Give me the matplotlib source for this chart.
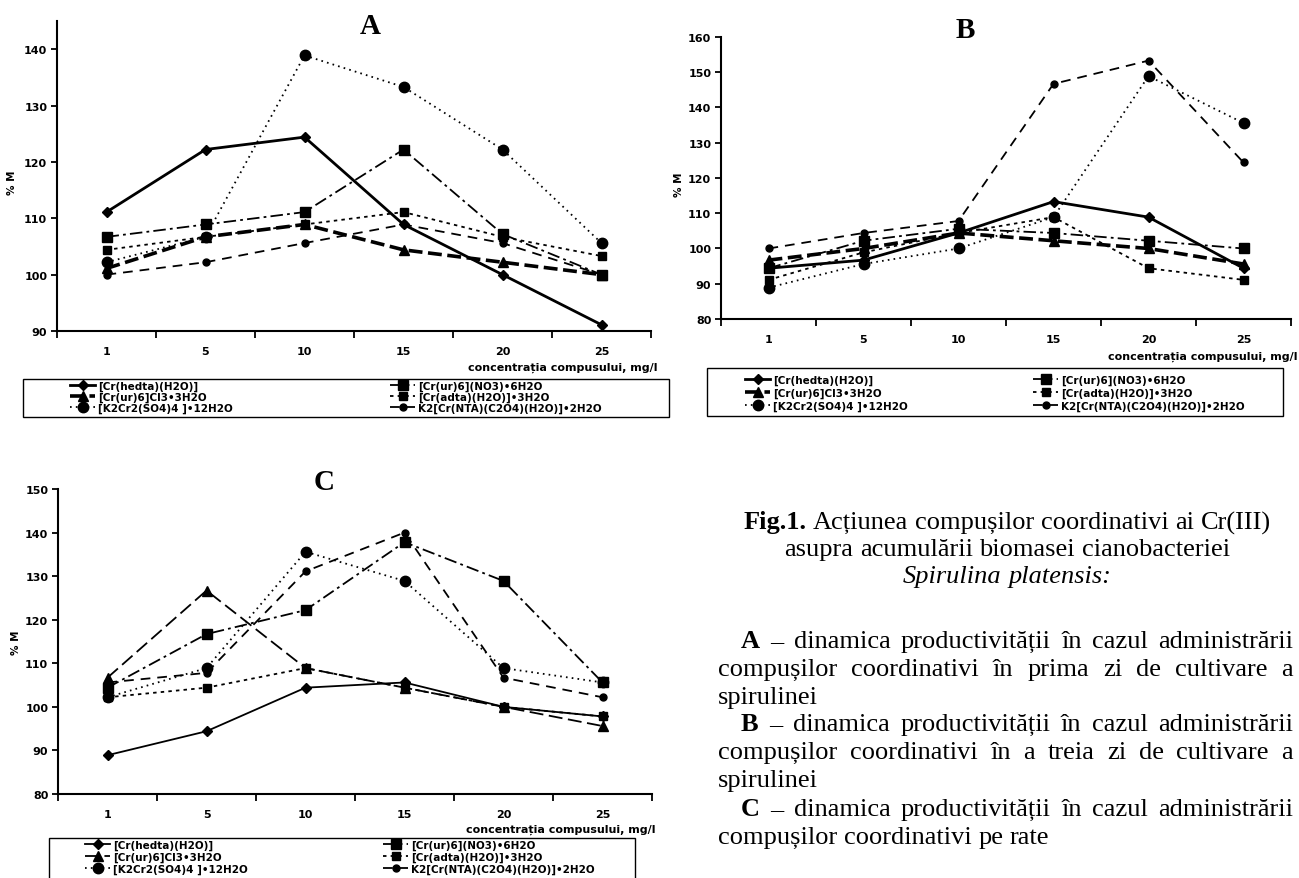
import matplotlib
matplotlib.use("Agg")
import matplotlib.pyplot as plt
import numpy as np
from matplotlib.patches import Rectangle

W, H = 1299, 879

# Date (concentrația, mg/l) si %M pentru fiecare compus
conc = ["1", "5", "10", "15", "20", "25"]
names = ["[Cr(hedta)(H2O)]", "[Cr(ur)6](NO3)•6H2O", "[Cr(ur)6]Cl3•3H2O",
         "[Cr(adta)(H2O)]•3H2O", "[K2Cr2(SO4)4 ]•12H2O", "K2[Cr(NTA)(C2O4)(H2O)]•2H2O"]

# A - prima zi
hedta_A = [111.1, 122.2, 124.4, 108.9, 100.0, 91.1]
no3_A = [106.7, 108.9, 111.1, 122.2, 107.2, 100.0]
cl3_A = [101.1, 106.7, 108.9, 104.4, 102.2, 100.0]
adta_A = [104.4, 106.7, 108.9, 111.1, 106.7, 103.3]
so4_A = [102.2, 106.7, 138.9, 133.3, 122.2, 105.6]
nta_A = [100.0, 102.2, 105.6, 108.9, 105.6, 100.0]

# B - a treia zi
hedta_B = [94.4, 96.7, 104.4, 113.3, 108.9, 94.4]
no3_B = [94.4, 102.2, 105.6, 104.4, 102.2, 100.0]
cl3_B = [96.7, 100.0, 104.4, 102.2, 100.0, 95.6]
adta_B = [91.1, 98.9, 104.4, 108.9, 94.4, 91.1]
so4_B = [88.9, 95.6, 100.0, 108.9, 148.9, 135.6]
nta_B = [100.0, 104.4, 107.8, 146.7, 153.3, 124.4]

# C - pe rate
hedta_C = [88.9, 94.4, 104.4, 105.6, 100.0, 97.8]
no3_C = [104.4, 116.7, 122.2, 137.8, 128.9, 105.6]
cl3_C = [106.7, 126.7, 108.9, 104.4, 100.0, 95.6]
adta_C = [102.2, 104.4, 108.9, 104.4, 100.0, 97.8]
so4_C = [102.2, 108.9, 135.6, 128.9, 108.9, 105.6]
nta_C = [105.6, 107.8, 131.1, 140.0, 106.7, 102.2]

plt.rcParams["lines.scale_dashes"] = False
plt.rcParams["font.family"] = "DejaVu Sans"
plt.rcParams["font.weight"] = "bold"

style = [
    dict(ls="-", marker="D", ms=5),
    dict(ls=(0, (9, 3, 2, 3)), marker="s", ms=7),
    dict(ls=(0, (10, 4)), marker="^", ms=7),
    dict(ls=(0, (2.5, 3)), marker="s", ms=6),
    dict(ls=(0, (1.2, 3)), marker="o", ms=7.5),
    dict(ls=(0, (7, 5)), marker="o", ms=5),
]

fig = plt.figure(figsize=(W / 100, H / 100), dpi=100)


def px_axes(l, t, r, b):
    return fig.add_axes([l / W, 1 - b / H, (r - l) / W, (b - t) / H])


def panel(ax, series, lws, ylim, yticks):
    x = np.arange(1, 7)
    handles = []
    for vals, st, lw in zip(series, style, lws):
        h, = ax.plot(x, vals, color="black", lw=lw, linestyle=st["ls"],
                     marker=st["marker"], ms=st["ms"], mfc="black", mec="black",
                     clip_on=False)
        handles.append(h)
    ax.set_xlim(0.5, 6.5)
    ax.set_ylim(*ylim)
    ax.set_yticks(yticks)
    ax.set_xticks(x)
    ax.set_xticklabels(conc)
    ax.set_xticks(np.arange(0.5, 7, 1), minor=True)
    ax.tick_params(axis="x", which="major", length=0, pad=11, labelsize=8)
    ax.tick_params(axis="x", which="minor", length=5, width=1.3, direction="out")
    ax.tick_params(axis="y", length=4, width=1.3, labelsize=8, pad=3)
    for s in ["top", "right"]:
        ax.spines[s].set_visible(False)
    for s in ["left", "bottom"]:
        ax.spines[s].set_linewidth(1.5)
    return handles


def legend_box(handles, box, x1, x2, top, spacing):
    l, t, r, b = box
    fig.add_artist(Rectangle((l / W, 1 - b / H), (r - l) / W, (b - t) / H,
                             transform=fig.transFigure, fill=False, ec="black", lw=1))
    for xs, idx in [(x1, [0, 2, 4]), (x2, [1, 3, 5])]:
        fig.legend([handles[i] for i in idx], [names[i] for i in idx],
                   loc="upper left", bbox_to_anchor=(xs / W, 1 - top / H),
                   frameon=False, borderpad=0, borderaxespad=0, fontsize=7.5,
                   handlelength=2.4, handletextpad=0.3, labelspacing=spacing,
                   numpoints=1)


def side_text(x, y, s, **kw):
    fig.text(x / W, 1 - y / H, s, **kw)


# Grafica A
axA = px_axes(57, 22, 651, 332)
hA = panel(axA, [hedta_A, no3_A, cl3_A, adta_A, so4_A, nta_A],
           [2.0, 1.3, 2.6, 1.3, 1.3, 1.3], (90, 145), range(90, 141, 10))
side_text(370, 27, "A", family="Liberation Serif", fontsize=21, ha="center", va="center")
side_text(12, 183, "% M", fontsize=7.5, rotation=90, ha="center", va="center")
side_text(657, 368, "concentrația compusului, mg/l", fontsize=8, ha="right", va="center")
legend_box(hA, (23, 380, 669, 418), 70, 390, 382, 0.05)

# Grafica B
axB = px_axes(721, 38, 1291, 320)
hB = panel(axB, [hedta_B, no3_B, cl3_B, adta_B, so4_B, nta_B],
           [2.0, 1.3, 2.6, 1.3, 1.3, 1.3], (80, 160), range(80, 161, 10))
side_text(965, 30, "B", family="Liberation Serif", fontsize=21, ha="center", va="center")
side_text(679, 185, "% M", fontsize=7.5, rotation=90, ha="center", va="center")
side_text(1297, 357, "concentrația compusului, mg/l", fontsize=8, ha="right", va="center")
legend_box(hB, (707, 369, 1283, 417), 745, 1033, 376, 0.25)

# Grafica C
axC = px_axes(58, 490, 652, 795)
hC = panel(axC, [hedta_C, no3_C, cl3_C, adta_C, so4_C, nta_C],
           [1.3] * 6, (80, 150), range(80, 151, 10))
side_text(324, 483, "C", family="Liberation Serif", fontsize=21, ha="center", va="center")
side_text(16, 643, "% M", fontsize=7.5, rotation=90, ha="center", va="center")
side_text(656, 830, "concentrația compusului, mg/l", fontsize=8, ha="right", va="center")
legend_box(hC, (49, 839, 635, 895), 85, 383, 841, 0.15)

# Textul din dreapta
renderer = fig.canvas.get_renderer()
FS = 19


def words_line(parts, y, x0, x1=None, align="left"):
    objs = []
    for w, st in parts:
        t = fig.text(0, 1 - y / H, w, fontsize=FS, family="Liberation Serif",
                     weight="bold" if st == "b" else "normal",
                     style="italic" if st == "i" else "normal", va="center", ha="left")
        objs.append(t)
    widths = [t.get_window_extent(renderer).width for t in objs]
    a = fig.text(0, 0, "a a", fontsize=FS, family="Liberation Serif", weight="normal")
    aa = fig.text(0, 0, "aa", fontsize=FS, family="Liberation Serif", weight="normal")
    space = a.get_window_extent(renderer).width - aa.get_window_extent(renderer).width
    a.remove()
    aa.remove()
    gap = space
    if align == "justify" and len(objs) > 1:
        gap = (x1 - x0 - sum(widths)) / (len(objs) - 1)
    if align == "center":
        total = sum(widths) + gap * (len(objs) - 1)
        x0 = x0 - total / 2
    x = x0
    for t, w in zip(objs, widths):
        t.set_x(x / W)
        x += w + gap


def plain(s, st="n"):
    return [(w, st) for w in s.split()]


XC, XL, XI, XR = 1007, 718, 741, 1293
words_line([("Fig.1.", "b")] + plain("Acțiunea compușilor coordinativi ai Cr(III)"), 523, XC, align="center")
words_line(plain("asupra acumulării biomasei cianobacteriei"), 550, XC, align="center")
words_line(plain("Spirulina platensis:", "i"), 577, XC, align="center")

for letter, line2, y in [("A", "compușilor coordinativi în prima zi de cultivare a", 642),
                         ("B", "compușilor coordinativi în a treia zi de cultivare a", 725)]:
    words_line([(letter, "b")] + plain("– dinamica productivității în cazul administrării"),
               y, XI, XR, align="justify")
    words_line(plain(line2), y + 28, XL, XR, align="justify")
    words_line(plain("spirulinei"), y + 56, XL)

words_line([("C", "b")] + plain("– dinamica productivității în cazul administrării"),
           810, XI, XR, align="justify")
words_line(plain("compușilor coordinativi pe rate"), 838, XL)

fig.savefig("out.png", dpi=100)
